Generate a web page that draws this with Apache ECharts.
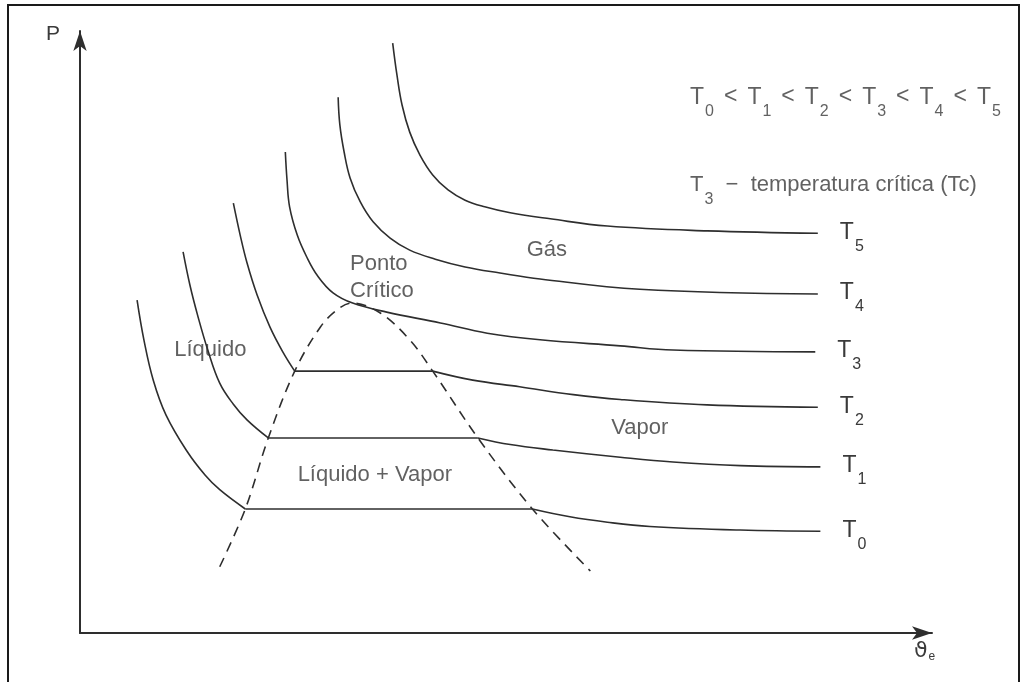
<!DOCTYPE html>
<html>
<head>
<meta charset="utf-8">
<script src="https://cdn.jsdelivr.net/npm/echarts@6/dist/echarts.min.js"></script>
<style>
  html, body { margin: 0; padding: 0; background: #ffffff; }
  #chart { width: 1027px; height: 682px; }
</style>
</head>
<body>
<div id="chart"></div>
<script>
// isotherms, [volume, pressure] in arbitrary diagram units (0-100)
const t5Curve = [[36.7, 98.0], [37.2, 92.7], [37.8, 87.7], [38.7, 83.2], [39.9, 79.4], [41.4, 76.1], [43.2, 73.6], [45.2, 71.9], [47.5, 70.8], [50.5, 69.8], [55.2, 68.8], [61.9, 67.6], [73.6, 66.8], [86.6, 66.4]];
const t4Curve = [[30.3, 89.0], [30.5, 84.4], [31.0, 79.9], [31.7, 75.6], [32.9, 71.6], [34.4, 68.3], [36.4, 65.6], [38.7, 63.6], [41.7, 62.1], [45.2, 60.8], [49.3, 59.8], [54.0, 58.8], [65.7, 57.1], [86.6, 56.3]];
const t3Curve = [[24.1, 79.9], [24.3, 75.2], [24.6, 70.8], [25.5, 66.1], [26.6, 62.5], [27.9, 59.3], [29.7, 56.5], [32.0, 54.8], [36.0, 53.3], [42.3, 51.5], [47.8, 49.8], [54.0, 48.7], [63.4, 47.7], [69.6, 47.0], [86.3, 46.7]];

const t2Liquid = [[18.0, 71.4], [18.8, 66.1], [19.6, 61.5], [20.8, 56.1], [22.3, 50.8], [23.8, 46.7], [25.2, 43.5]];
const t2Plateau = [[25.2, 43.5], [41.4, 43.5]];
const t2Vapor = [[41.4, 43.5], [46.1, 42.0], [51.6, 40.9], [57.9, 39.6], [63.4, 38.8], [73.6, 37.9], [86.6, 37.5]];

const t1Liquid = [[12.1, 63.3], [12.9, 57.8], [13.8, 52.8], [15.0, 47.0], [16.4, 41.5], [18.0, 38.0], [19.6, 35.4], [22.1, 32.4]];
const t1Plateau = [[22.1, 32.4], [46.7, 32.4]];
const t1Vapor = [[46.7, 32.4], [50.5, 31.3], [55.5, 30.4], [63.4, 29.2], [69.6, 28.4], [77.5, 27.8], [86.9, 27.6]];

const t0Liquid = [[6.7, 55.3], [7.5, 48.7], [8.6, 42.0], [10.1, 36.2], [12.6, 30.1], [14.7, 26.2], [16.4, 23.8], [19.4, 20.6]];
const t0Plateau = [[19.4, 20.6], [53.1, 20.6]];
const t0Vapor = [[53.1, 20.6], [57.5, 19.3], [61.9, 18.4], [66.9, 17.7], [77.5, 17.1], [86.9, 16.9]];

// saturation dome (dashed)
const domeCurve = [[16.4, 11.0], [19.4, 20.6], [22.1, 32.4], [25.2, 43.5], [28.2, 50.8], [30.2, 53.7], [31.9, 54.8], [35.2, 53.2], [38.7, 48.7], [41.4, 43.5], [46.7, 32.4], [53.1, 20.6], [59.9, 10.3]];

const isoLabels = ['T{s|5}', 'T{s|4}', 'T{s|3}', 'T{s|2}', 'T{s|1}', 'T{s|0}'];

// annotations
const annoTexts = [
  'T{s|0}{lt|<}T{s|1}{lt|<}T{s|2}{lt|<}T{s|3}{lt|<}T{s|4}{lt|<}T{s|5}',
  'T{s|3}  \u2212  temperatura crítica (Tc)',
  'Gás',
  'Ponto\nCrítico',
  'Líquido',
  'Vapor',
  'Líquido + Vapor'
];
const annoX = [71.6, 71.6, 54.8, 31.7, 15.3, 65.7, 34.6];
const annoY = [89.0, 74.4, 63.6, 59.1, 47.0, 34.1, 26.2];
const annoAlign = ['left', 'left', 'center', 'left', 'center', 'center', 'center'];

const ink = '#2e2e2e';
const textInk = '#3a3a3a';
const fontFamily = '"Liberation Sans", Arial, sans-serif';

const subStyle = { fontSize: 16, lineHeight: 16, padding: [18, 0, 0, 1], verticalAlign: 'top', color: textInk, fontFamily };

const chart = echarts.init(document.getElementById('chart'), null, { renderer: 'canvas' });

const lineSeries = (data, label) => {
  const s = {
    type: 'line',
    data,
    smooth: 0.4,
    symbol: 'none',
    silent: true,
    lineStyle: { color: ink, width: 1.6 },
  };
  if (label) {
    s.endLabel = {
      show: true,
      formatter: label,
      distance: 22,
      offset: [0, -13],
      color: textInk,
      fontSize: 23,
      lineHeight: 24,
      fontFamily,
      verticalAlign: 'top',
      rich: { s: subStyle },
    };
  }
  return s;
};

const annoData = annoTexts.map((txt, i) => ({
  value: [annoX[i], annoY[i]],
  label: {
    position: annoAlign[i] === 'left' ? 'right' : 'inside',
    distance: 0,
    align: annoAlign[i],
    formatter: txt,
  },
}));
// the top-right legend lines use the larger subscript type
annoData[0].label.fontSize = 23;
annoData[0].label.lineHeight = 24;
annoData[1].label.fontSize = 22;
annoData[1].label.lineHeight = 24;

const option = {
  backgroundColor: '#ffffff',
  animation: false,
  grid: { left: 80, right: 95, top: 31, bottom: 49 },
  xAxis: {
    type: 'value',
    min: 0,
    max: 100,
    axisLine: {
      onZero: false,
      symbol: ['none', 'arrow'],
      symbolSize: [10, 20],
      lineStyle: { color: ink, width: 2 },
    },
    axisTick: { show: false },
    axisLabel: { show: false },
    splitLine: { show: false },
  },
  yAxis: {
    type: 'value',
    min: 0,
    max: 100,
    axisLine: {
      show: true,
      onZero: false,
      symbol: ['none', 'arrow'],
      symbolSize: [10, 20],
      lineStyle: { color: ink, width: 2 },
    },
    axisTick: { show: false },
    axisLabel: { show: false },
    splitLine: { show: false },
  },
  graphic: [
    {
      type: 'rect',
      shape: { x: 8, y: 5, width: 1011, height: 700 },
      style: { fill: 'none', stroke: '#1a1a1a', lineWidth: 2 },
      silent: true,
    },
    {
      type: 'text',
      left: 46,
      top: 24,
      style: { text: 'P', fontSize: 21, fill: textInk, fontFamily },
    },
    {
      type: 'text',
      left: 914,
      top: 640,
      style: {
        text: '\u03D1{e|e}',
        fontSize: 22,
        fill: textInk,
        fontFamily: '"DejaVu Sans", sans-serif',
        rich: { e: { fontSize: 12, padding: [12, 0, 0, 1], verticalAlign: 'top', fill: textInk } },
      },
    },
  ],
  series: [
    lineSeries(t5Curve, isoLabels[0]),
    lineSeries(t4Curve, isoLabels[1]),
    lineSeries(t3Curve, isoLabels[2]),
    lineSeries(t2Liquid),
    lineSeries(t2Plateau),
    lineSeries(t2Vapor, isoLabels[3]),
    lineSeries(t1Liquid),
    lineSeries(t1Plateau),
    lineSeries(t1Vapor, isoLabels[4]),
    lineSeries(t0Liquid),
    lineSeries(t0Plateau),
    lineSeries(t0Vapor, isoLabels[5]),
    {
      type: 'line',
      data: domeCurve,
      smooth: 0.35,
      symbol: 'none',
      silent: true,
      lineStyle: { color: ink, width: 1.6, type: [10, 7] },
    },
    {
      type: 'scatter',
      data: annoData,
      symbolSize: 0,
      silent: true,
      label: {
        show: true,
        color: textInk,
        fontSize: 22,
        lineHeight: 27,
        fontFamily,
        verticalAlign: 'middle',
        rich: {
          s: subStyle,
          lt: { fontSize: 23, lineHeight: 24, padding: [0, 10, 0, 10], verticalAlign: 'top', color: textInk, fontFamily },
        },
      },
    },
  ],
};

chart.setOption(option);
</script>
</body>
</html>
